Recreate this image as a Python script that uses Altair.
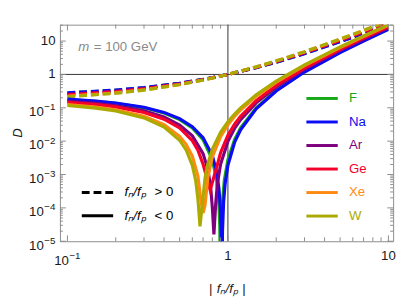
import altair as alt
import pandas as pd

FONT = "Liberation Sans"

elements = ["F", "Na", "Ar", "Ge", "Xe", "W"]
colors = ["#16a816", "#0b0bf5", "#7f007f", "#f5002a", "#ff8a12", "#aaaa00"]

# f_n/f_p > 0 (dashed)
x_pos = [0.1, 0.2, 0.3, 0.5, 0.7, 1.0, 1.5, 2.0, 3.0, 5.0, 7.0, 10.0]
d_pos_F = [0.277, 0.335, 0.399, 0.543, 0.709, 1.0, 1.596, 2.330, 4.213, 9.64, 17.29, 32.9]
d_pos_Na = [0.281, 0.339, 0.403, 0.546, 0.712, 1.0, 1.590, 2.316, 4.176, 9.53, 17.06, 32.4]
d_pos_Ar = [0.255, 0.314, 0.378, 0.526, 0.697, 1.0, 1.626, 2.403, 4.41, 10.24, 18.49, 35.4]
d_pos_Ge = [0.245, 0.303, 0.368, 0.517, 0.691, 1.0, 1.641, 2.439, 4.51, 10.54, 19.09, 36.0]
d_pos_Xe = [0.222, 0.281, 0.346, 0.499, 0.678, 1.0, 1.674, 2.521, 4.73, 11.23, 20.49, 39.6]
d_pos_W = [0.213, 0.272, 0.338, 0.492, 0.674, 1.0, 1.687, 2.553, 4.82, 11.50, 21.04, 40.7]

# f_n/f_p < 0 (solid)
x_neg_F = [0.1, 0.15, 0.2, 0.3, 0.4, 0.5, 0.6, 0.7, 0.8, 0.85, 0.88, 0.89, 0.9, 0.91, 0.92, 0.95, 1.0, 1.1, 1.2, 1.5, 2, 3, 5, 7, 10]
d_neg_F = [0.1773, 0.1558, 0.1357, 0.0997, 0.0693, 0.0443, 0.0249, 0.01108, 0.00277, 0.000693, 0.000111, 2.8e-5, 1e-7, 2.8e-5, 0.000111, 0.000693, 0.00277, 0.01108, 0.0249, 0.0997, 0.335, 1.222, 4.66, 10.31, 22.9]

x_neg_Na = [0.1, 0.15, 0.2, 0.3, 0.4, 0.5, 0.6, 0.7, 0.8, 0.85, 0.88, 0.9, 0.91, 0.917, 0.925, 0.94, 0.96, 1.0, 1.1, 1.2, 1.5, 2, 3, 5, 7, 10]
d_neg_Na = [0.1816, 0.16, 0.1398, 0.1035, 0.0727, 0.0473, 0.0273, 0.01278, 0.00371, 0.00121, 0.000366, 7.6e-5, 1.2e-5, 1e-7, 1.9e-5, 0.000148, 0.000511, 0.00189, 0.00915, 0.0219, 0.0926, 0.3195, 1.181, 4.54, 10.07, 22.46]

x_neg_Ar = [0.1, 0.15, 0.2, 0.3, 0.4, 0.5, 0.6, 0.7, 0.75, 0.78, 0.8, 0.818, 0.84, 0.86, 0.9, 1.0, 1.1, 1.2, 1.5, 2, 3, 5, 7, 10]
d_neg_Ar = [0.156, 0.1351, 0.1156, 0.0812, 0.0529, 0.0306, 0.0144, 0.00423, 0.00141, 0.000441, 0.0001, 1.6e-5, 0.000144, 0.000529, 0.00203, 0.01, 0.024, 0.0441, 0.1406, 0.4225, 1.44, 5.29, 11.56, 25.5]

x_neg_Ge = [0.1, 0.15, 0.2, 0.3, 0.4, 0.5, 0.6, 0.65, 0.7, 0.775, 0.86, 0.9, 1.0, 1.1, 1.2, 1.5, 2, 3, 5, 7, 10]
d_neg_Ge = [0.1461, 0.1254, 0.1063, 0.0728, 0.0457, 0.0248, 0.01028, 0.00537, 0.00204, 0.00034, 0.00199, 0.0045, 0.0152, 0.0322, 0.0555, 0.1633, 0.469, 1.554, 5.62, 12.2, 26.8]

x_neg_Xe = [0.1, 0.15, 0.2, 0.3, 0.4, 0.5, 0.55, 0.6, 0.65, 0.68, 0.7, 0.72, 0.75, 0.8, 0.9, 1.0, 1.1, 1.2, 1.5, 2, 3, 5, 7, 10]
d_neg_Xe = [0.1249, 0.105, 0.0868, 0.0556, 0.0314, 0.014, 0.00791, 0.00355, 0.000909, 0.000157, 7e-5, 0.000121, 0.00082, 0.00337, 0.01364, 0.0308, 0.0549, 0.0859, 0.2204, 0.583, 1.826, 6.38, 13.71, 29.9]

x_neg_W = [0.1, 0.15, 0.2, 0.3, 0.4, 0.5, 0.55, 0.6, 0.63, 0.65, 0.67, 0.69, 0.72, 0.75, 0.8, 0.9, 1.0, 1.1, 1.2, 1.5, 2, 3, 5, 7, 10]
d_neg_W = [0.1172, 0.0977, 0.0799, 0.0497, 0.0266, 0.01066, 0.00538, 0.00189, 0.000652, 0.000185, 2.8e-5, 0.000107, 0.0008, 0.00213, 0.00579, 0.01846, 0.0383, 0.0652, 0.0994, 0.2446, 0.63, 1.936, 6.69, 14.31, 31.1]

# axis tick positions and labels
x_major = [0.1, 1, 10]
x_minor = [0.2, 0.3, 0.4, 0.5, 0.6, 0.7, 0.8, 0.9, 2, 3, 4, 5, 6, 7, 8, 9]
y_major = [1e-5, 1e-4, 1e-3, 1e-2, 1e-1, 1, 10]
y_minor = [m * 10.0 ** k for k in range(-5, 1) for m in range(2, 10)] + [20, 30]
y_plain_vals = [1, 10]
y_plain_text = ["1", "10"]
y_exp_vals = [1e-5, 1e-4, 1e-3, 1e-2, 1e-1]
y_exp_text = ["−5", "−4", "−3", "−2", "−1"]
x_plain_vals = [1, 10]
x_plain_text = ["1", "10"]
x_exp_vals = [0.1]
x_exp_text = ["−1"]

W, H = 340, 221
FRAME = "#8c8c8c"
LAB = "#1a1a1a"

pos_lists = {"F": d_pos_F, "Na": d_pos_Na, "Ar": d_pos_Ar, "Ge": d_pos_Ge, "Xe": d_pos_Xe, "W": d_pos_W}
neg_lists = {"F": (x_neg_F, d_neg_F), "Na": (x_neg_Na, d_neg_Na), "Ar": (x_neg_Ar, d_neg_Ar),
             "Ge": (x_neg_Ge, d_neg_Ge), "Xe": (x_neg_Xe, d_neg_Xe), "W": (x_neg_W, d_neg_W)}

rows = []
for i, el in enumerate(elements):
    for x, d in zip(x_pos, pos_lists[el]):
        rows.append({"x": x, "D": d, "element": el, "sign": "pos"})
    xs_, ds_ = neg_lists[el]
    for x, d in zip(xs_, ds_):
        rows.append({"x": x, "D": d, "element": el, "sign": "neg"})
df = pd.DataFrame(rows)

xscale = alt.Scale(type="log", domain=[0.0898, 10.7], nice=False)
yscale = alt.Scale(type="log", domain=[1e-5, 31], nice=False)
cscale = alt.Scale(domain=elements, range=colors)

base = alt.Chart(df)

dashed = base.transform_filter(alt.datum.sign == "pos").mark_line(
    strokeWidth=3.2, strokeDash=[8, 4], clip=True
).encode(
    x=alt.X("x:Q", scale=xscale, axis=None),
    y=alt.Y("D:Q", scale=yscale, axis=None),
    color=alt.Color("element:N", scale=cscale, legend=None),
    detail="element:N",
    order=alt.Order("x:Q"),
)
solid = base.transform_filter(alt.datum.sign == "neg").mark_line(
    strokeWidth=3.2, clip=True
).encode(
    x=alt.X("x:Q", scale=xscale, axis=None),
    y=alt.Y("D:Q", scale=yscale, axis=None),
    color=alt.Color("element:N", scale=cscale, legend=None),
    detail="element:N",
    order=alt.Order("x:Q"),
)

one = pd.DataFrame({"a": [0]})
vline = alt.Chart(one).mark_rule(color="#333333", strokeWidth=1).encode(x=alt.datum(1, scale=xscale, axis=None))
hline = alt.Chart(one).mark_rule(color="#333333", strokeWidth=1).encode(y=alt.datum(1, scale=yscale, axis=None))


def xticks(vals, length):
    d = pd.DataFrame({"v": vals})
    b = alt.Chart(d).mark_rule(color=FRAME, strokeWidth=1)
    return (b.encode(x=alt.X("v:Q", scale=xscale, axis=None), y=alt.value(H), y2=alt.value(H - length)) +
            b.encode(x=alt.X("v:Q", scale=xscale, axis=None), y=alt.value(0), y2=alt.value(length)))


def yticks(vals, length):
    d = pd.DataFrame({"v": vals})
    b = alt.Chart(d).mark_rule(color=FRAME, strokeWidth=1)
    return (b.encode(y=alt.Y("v:Q", scale=yscale, axis=None), x=alt.value(0), x2=alt.value(length)) +
            b.encode(y=alt.Y("v:Q", scale=yscale, axis=None), x=alt.value(W), x2=alt.value(W - length)))


ticks = xticks(x_major, 6) + xticks(x_minor, 4) + yticks(y_major, 6) + yticks(y_minor, 3)


# tick labels (base 10 with raised exponent)
def ylab_plain():
    d = pd.DataFrame({"v": y_plain_vals, "t": y_plain_text})
    return alt.Chart(d).mark_text(font=FONT, fontSize=13.5, color=LAB, align="right", baseline="middle").encode(
        y=alt.Y("v:Q", scale=yscale, axis=None), x=alt.value(-4.5), text="t:N")


def ylab_exp():
    d = pd.DataFrame({"v": y_exp_vals, "t": y_exp_text})
    b10 = alt.Chart(d).mark_text(text="10", font=FONT, fontSize=13.5, color=LAB, align="right",
                                 baseline="alphabetic", dy=8.5).encode(
        y=alt.Y("v:Q", scale=yscale, axis=None), x=alt.value(-16.5))
    ex = alt.Chart(d).mark_text(font=FONT, fontSize=10, color=LAB, align="right",
                                baseline="alphabetic", dy=2.5).encode(
        y=alt.Y("v:Q", scale=yscale, axis=None), x=alt.value(-4.5), text="t:N")
    return b10 + ex


def xlab_plain():
    d = pd.DataFrame({"v": x_plain_vals, "t": x_plain_text})
    return alt.Chart(d).mark_text(font=FONT, fontSize=13.5, color=LAB, align="center", baseline="alphabetic").encode(
        x=alt.X("v:Q", scale=xscale, axis=None), y=alt.value(H + 19), text="t:N")


def xlab_exp():
    d = pd.DataFrame({"v": x_exp_vals, "t": x_exp_text})
    b10 = alt.Chart(d).mark_text(text="10", font=FONT, fontSize=13.5, color=LAB, align="right",
                                 baseline="alphabetic", dx=1.5).encode(
        x=alt.X("v:Q", scale=xscale, axis=None), y=alt.value(H + 24.5))
    ex = alt.Chart(d).mark_text(font=FONT, fontSize=10, color=LAB, align="left",
                                baseline="alphabetic", dx=2).encode(
        x=alt.X("v:Q", scale=xscale, axis=None), y=alt.value(H + 18.5), text="t:N")
    return b10 + ex


labels = ylab_plain() + ylab_exp() + xlab_plain() + xlab_exp()

# axis titles
ytitle = alt.Chart(one).mark_text(text="D", font=FONT, fontSize=13.5, fontStyle="italic", color=LAB,
                                  angle=270, align="center", baseline="middle").encode(
    x=alt.value(-43), y=alt.value(H / 2))
xt_mid = alt.Chart(one).mark_text(text="fₙ/fₚ", font=FONT, fontSize=13.5, fontStyle="italic", color=LAB,
                                  align="center", baseline="alphabetic").encode(
    x=alt.value(170.8), y=alt.value(H + 53))
xt_l = alt.Chart(one).mark_text(text="|", font=FONT, fontSize=13.5, color=LAB,
                                align="right", baseline="alphabetic").encode(
    x=alt.value(155.5), y=alt.value(H + 53))
xt_r = alt.Chart(one).mark_text(text="|", font=FONT, fontSize=13.5, color=LAB,
                                align="left", baseline="alphabetic").encode(
    x=alt.value(186), y=alt.value(H + 53))

# annotation
m_txt = alt.Chart(one).mark_text(text="m", fontStyle="italic", font=FONT, fontSize=13.5, color="#8a8a8a",
                                 align="left", baseline="alphabetic").encode(x=alt.value(18.6), y=alt.value(26.5))
m_rest = alt.Chart(one).mark_text(text="= 100 GeV", font=FONT, fontSize=13.5, color="#8a8a8a",
                                  align="left", baseline="alphabetic").encode(x=alt.value(34.5), y=alt.value(26.5))

# element legend
leg_layers = []
for i, (el, c) in enumerate(zip(elements, colors)):
    yy = 75.3 + 24 * i
    leg_layers.append(alt.Chart(one).mark_rule(color=c, strokeWidth=3).encode(
        x=alt.value(251.5), x2=alt.value(283.5), y=alt.value(yy)))
    leg_layers.append(alt.Chart(one).mark_text(text=el, color=c, font=FONT, fontSize=13.5,
                                               align="left", baseline="middle").encode(
        x=alt.value(295), y=alt.value(yy)))

# line-style legend
ls_layers = [
    alt.Chart(one).mark_rule(color="black", strokeWidth=3, strokeDash=[8, 4]).encode(
        x=alt.value(22.3), x2=alt.value(54.3), y=alt.value(171.3)),
    alt.Chart(one).mark_rule(color="black", strokeWidth=3).encode(
        x=alt.value(22.3), x2=alt.value(54.3), y=alt.value(195)),
]
for yy, rel in [(171.3, "> 0"), (195, "< 0")]:
    ls_layers.append(alt.Chart(one).mark_text(text="fₙ/fₚ", fontStyle="italic", font=FONT, fontSize=13.5,
                                              color="black", align="left", baseline="middle").encode(
        x=alt.value(66), y=alt.value(yy)))
    ls_layers.append(alt.Chart(one).mark_text(text=rel, font=FONT, fontSize=13.5,
                                              color="black", align="left", baseline="middle").encode(
        x=alt.value(96.5), y=alt.value(yy)))

chart = alt.layer(
    vline, hline, dashed, solid, ticks, labels, ytitle, xt_mid, xt_l, xt_r,
    m_txt, m_rest, *leg_layers, *ls_layers
).properties(
    width=W, height=H,
    autosize=alt.AutoSizeParams(type="none"),
    padding={"left": 53, "top": 14, "right": 6, "bottom": 60},
).configure_view(
    stroke=FRAME, strokeWidth=1
)

chart.save("out.html", embed_options={"renderer": "svg", "actions": False})
